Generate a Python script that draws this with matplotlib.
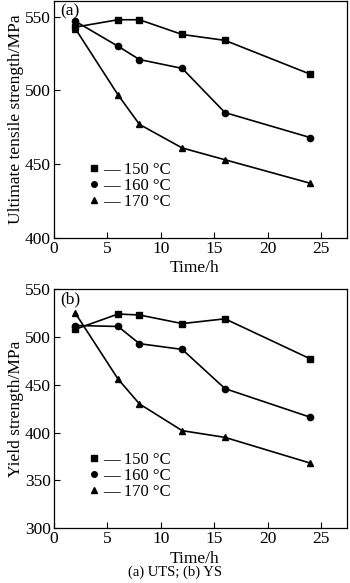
import matplotlib.pyplot as plt
from matplotlib.lines import Line2D

plt.rcParams['font.family'] = ['Liberation Serif', 'DejaVu Serif']

time_h = [2, 6, 8, 12, 16, 24]
temps = ['150 °C', '160 °C', '170 °C']
markers = ['s', 'o', '^']

# ultimate tensile strength, MPa
uts_150 = [543, 548, 548, 538, 534, 511]
uts_160 = [547, 530, 521, 515, 485, 468]
uts_170 = [542, 497, 477, 461, 453, 437]

# yield strength, MPa
ys_150 = [508, 524, 523, 514, 519, 477]
ys_160 = [512, 511, 493, 487, 446, 416]
ys_170 = [525, 456, 430, 402, 395, 368]

fig = plt.figure(figsize=(3.5, 5.83), dpi=100)
ax1 = fig.add_axes([0.154, 0.592, 0.837, 0.407])
ax2 = fig.add_axes([0.154, 0.094, 0.837, 0.410])

panels = [
    (ax1, [uts_150, uts_160, uts_170], (400, 561), [400, 450, 500, 550],
     'Ultimate tensile strength/MPa', '(a)'),
    (ax2, [ys_150, ys_160, ys_170], (300, 550), [300, 350, 400, 450, 500, 550],
     'Yield strength/MPa', '(b)'),
]

for ax, series, ylim, yticks, ylabel, tag in panels:
    for vals, m in zip(series, markers):
        ax.plot(time_h, vals, color='black', lw=1.2, marker=m, markersize=4.5)
    ax.set_xlim(0, 27.4)
    ax.set_ylim(*ylim)
    ax.set_xticks([0, 5, 10, 15, 20, 25])
    ax.set_yticks(yticks)
    ax.tick_params(direction='in', length=4, width=0.8, labelsize=12.5, pad=2)
    for s in ax.spines.values():
        s.set_linewidth(0.9)
    ax.set_ylabel(ylabel, fontsize=12.5, labelpad=1)
    ax.set_xlabel('Time/h', fontsize=12.5)
    ax.xaxis.set_label_coords(0.48, -0.095)
    ax.text(0.02, 0.99, tag, transform=ax.transAxes, fontsize=12.5,
            va='top', ha='left')
    handles = [Line2D([], [], color='black', marker=m, ls='none', markersize=4)
               for m in markers]
    labels = ['\u2014 ' + t for t in temps]
    ax.legend(handles, labels, loc='lower left', bbox_to_anchor=(0.09, 0.075),
              frameon=False, fontsize=12, handlelength=0.5, handletextpad=0.3,
              labelspacing=0.0, borderpad=0.1)

fig.text(0.5, 0.012, '(a) UTS; (b) YS', ha='center', fontsize=10.5)

fig.savefig('out.png', dpi=100)
